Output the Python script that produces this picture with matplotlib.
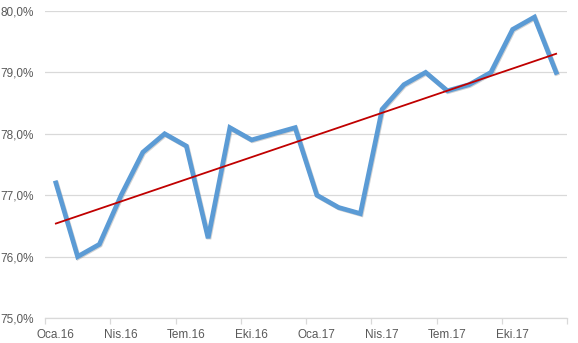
import numpy as np
import matplotlib.pyplot as plt
import matplotlib.patheffects as pe
from matplotlib.ticker import FixedLocator, FuncFormatter

# aylık oranlar (%), Ocak 2016 - Aralık 2017
months = ['Oca.16', 'Şub.16', 'Mar.16', 'Nis.16', 'May.16', 'Haz.16',
          'Tem.16', 'Ağu.16', 'Eyl.16', 'Eki.16', 'Kas.16', 'Ara.16',
          'Oca.17', 'Şub.17', 'Mar.17', 'Nis.17', 'May.17', 'Haz.17',
          'Tem.17', 'Ağu.17', 'Eyl.17', 'Eki.17', 'Kas.17', 'Ara.17']
values = [77.2, 76.0, 76.2, 77.0, 77.7, 78.0, 77.8, 76.3, 78.1, 77.9, 78.0, 78.1,
          77.0, 76.8, 76.7, 78.4, 78.8, 79.0, 78.7, 78.8, 79.0, 79.7, 79.9, 79.0]
y_ticks = [75, 76, 77, 78, 79, 80]

plt.rcParams['font.family'] = ['Liberation Sans', 'DejaVu Sans']

x = np.arange(len(values))
fig = plt.figure(figsize=(5.78, 3.43), dpi=100)
ax = fig.add_axes([45 / 578, 1 - 318 / 343, 522 / 578, 307 / 343])

# veri çizgisi (hafif gölgeli)
ax.plot(x, values, color='#5B9BD5', lw=3.4, solid_joinstyle='miter', zorder=3,
        path_effects=[pe.SimpleLineShadow(offset=(0.6, -0.6), shadow_color='#808080', alpha=0.35),
                      pe.Normal()])

# doğrusal eğilim
k, b = np.polyfit(x, values, 1)
ax.plot(x, k * x + b, color='#C00000', lw=1.3, zorder=4)

ax.set_xlim(-0.5, len(values) - 0.5)
ax.set_ylim(75, 80)
ax.set_yticks(y_ticks)
ax.yaxis.set_major_formatter(FuncFormatter(lambda v, p: f'{v:.1f}%'.replace('.', ',')))
ax.grid(axis='y', color='#D9D9D9', lw=0.9)
ax.set_axisbelow(True)

# etiketler çeyrek başlarında, çentikler sınırlarda
ax.xaxis.set_major_locator(FixedLocator(np.arange(-0.5, len(values), 3)))
ax.xaxis.set_minor_locator(FixedLocator(x[::3]))
ax.set_xticklabels([])
ax.set_xticklabels([months[i] for i in x[::3]], minor=True)
ax.tick_params(axis='x', which='major', length=4, color='#D9D9D9', width=0.9)
ax.tick_params(axis='x', which='minor', length=0, pad=8, labelsize=8.5, labelcolor='#595959')
ax.tick_params(axis='y', length=0, pad=8, labelsize=8.5, labelcolor='#595959')

for s in ['left', 'right', 'top']:
    ax.spines[s].set_visible(False)
ax.spines['bottom'].set_color('#D9D9D9')
ax.spines['bottom'].set_linewidth(0.9)

fig.savefig('out.png', dpi=100)
